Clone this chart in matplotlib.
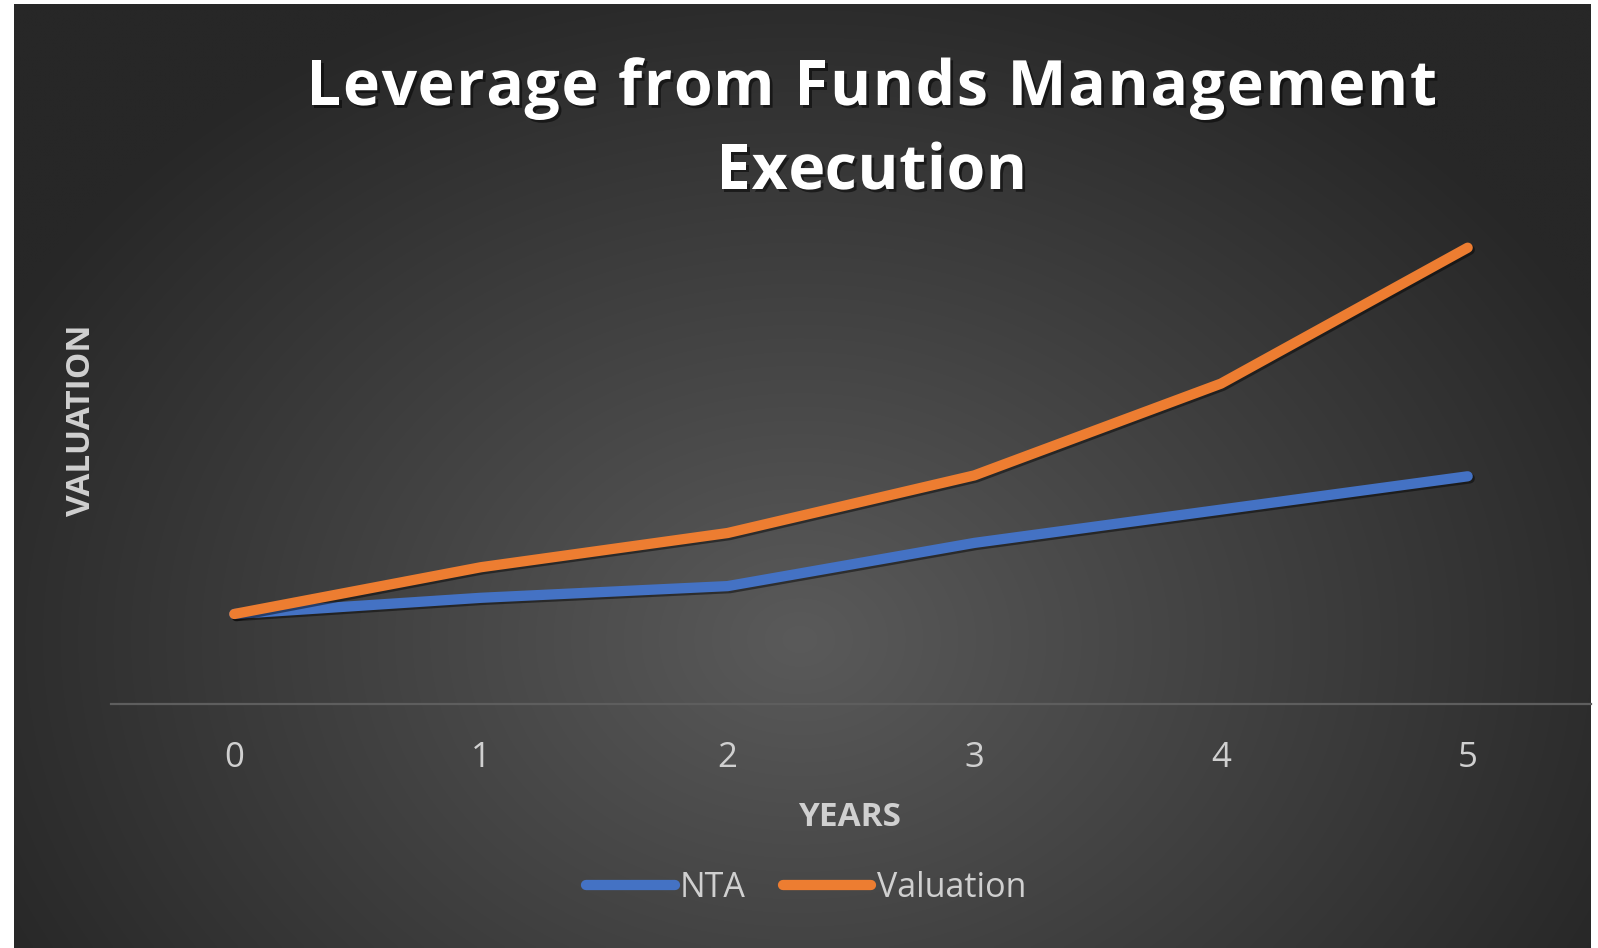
import numpy as np
import matplotlib
matplotlib.use("Agg")
import matplotlib.pyplot as plt
import matplotlib.patheffects as pe
from matplotlib.font_manager import FontProperties
from matplotlib.textpath import TextToPath

# ---- data ----
years = [0, 1, 2, 3, 4, 5]
year_labels = ["0", "1", "2", "3", "4", "5"]
nta = [100, 118, 131, 179, 216, 253]
valuation = [100, 152, 190, 254, 356, 507]
series_names = ["NTA", "Valuation"]
title_lines = ["Leverage from Funds Management", "Execution"]
x_label = "YEARS"
y_label = "VALUATION"

W, H = 1598, 948
fig = plt.figure(figsize=(W / 100, H / 100), dpi=100, facecolor="white")

# background radial gradient panel
bg_left, bg_right, bg_top, bg_bottom = 14, 1591, 4, 948
bg = fig.add_axes([bg_left / W, 1 - bg_bottom / H, (bg_right - bg_left) / W, (bg_bottom - bg_top) / H])
bg.set_axis_off()
gx = np.linspace(bg_left, bg_right, 400)
gy = np.linspace(bg_top, bg_bottom, 300)
GX, GY = np.meshgrid(gx, gy)
cx, cy = 800, 640
r = np.sqrt(((GX - cx) / 900) ** 2 + ((GY - cy) / 700) ** 2)
r = np.clip(r, 0, 1)
inner = np.array([0x5a, 0x5a, 0x5a]) / 255
outer = np.array([0x27, 0x27, 0x27]) / 255
img = inner[None, None, :] * (1 - r[..., None]) + outer[None, None, :] * r[..., None]
bg.imshow(img, aspect="auto", extent=[0, 1, 0, 1], interpolation="bilinear")
bg.set_xlim(0, 1)
bg.set_ylim(0, 1)

# main axes
ax_left, ax_right, ax_bottom, ax_top = 111, 1591, 704, 164
ax = fig.add_axes([ax_left / W, 1 - ax_bottom / H, (ax_right - ax_left) / W, (ax_bottom - ax_top) / H])
ax.patch.set_alpha(0)
ax.set_xlim(-0.5, 5.5)
ax.set_ylim(0, 600)
for s in ["top", "right", "left"]:
    ax.spines[s].set_visible(False)
ax.spines["bottom"].set_color("#5e5e5e")
ax.spines["bottom"].set_linewidth(1.6)
ax.set_yticks([])
ax.set_xticks(years)
ax.set_xticklabels(year_labels, fontfamily="Open Sans", fontsize=25, color="#d0d0d0")
ax.tick_params(axis="x", length=0, pad=26.5)

shadow = [pe.SimpleLineShadow(offset=(1.5, -1.5), shadow_color="black", alpha=0.45), pe.Normal()]
ax.plot(years, nta, color="#4472C4", lw=7.4, solid_capstyle="round", solid_joinstyle="round",
        label=series_names[0], path_effects=shadow)
ax.plot(years, valuation, color="#ED7D31", lw=7.4, solid_capstyle="round", solid_joinstyle="round",
        label=series_names[1], path_effects=shadow)

# title with letter spacing
tfs = 45
tprop = FontProperties(family="Open Sans", weight="bold", size=tfs)
t2p = TextToPath()
def adv(s):
    if not s:
        return 0.0
    w, h, d = t2p.get_text_width_height_descent(s, tprop, ismath=False)
    return w * 100 / 72  # points -> px

title_specs = [(title_lines[0], 871.5, 105, 1131), (title_lines[1], 871.5, 189, 311)]
tshadow = [pe.withSimplePatchShadow(offset=(2, -2), shadow_rgbFace="black", alpha=0.5)]
for s, cxp, base, target in title_specs:
    natural = adv(s)
    sp = (target - natural) / max(len(s) - 1, 1)
    x0 = cxp - target / 2
    for i, ch in enumerate(s):
        if ch == " ":
            continue
        xp = x0 + adv(s[:i]) + i * sp
        fig.text(xp / W, 1 - base / H, ch, ha="left", va="baseline", fontproperties=tprop,
                 color="white", path_effects=tshadow)

# axis labels
fig.text(850 / W, 1 - 818 / H, x_label, ha="center", va="center", fontfamily="Open Sans",
         fontweight="bold", fontsize=24, color="#d0d0d0")
fig.text(82 / W, 1 - 420 / H, y_label, ha="center", va="center", rotation=90,
         fontfamily="Open Sans", fontweight="bold", fontsize=24, color="#d0d0d0")

# legend
leg = fig.legend(loc="center", bbox_to_anchor=(806 / W, 1 - 888 / H), ncol=2, frameon=False,
                 handlelength=2.6, handletextpad=0.15, columnspacing=1.1,
                 prop={"family": "Open Sans", "size": 24.5})
for t in leg.get_texts():
    t.set_color("#d0d0d0")
for h in leg.legend_handles:
    h.set_solid_capstyle("round")
    h.set_path_effects([])

fig.savefig("out.png", dpi=100, facecolor="white")
